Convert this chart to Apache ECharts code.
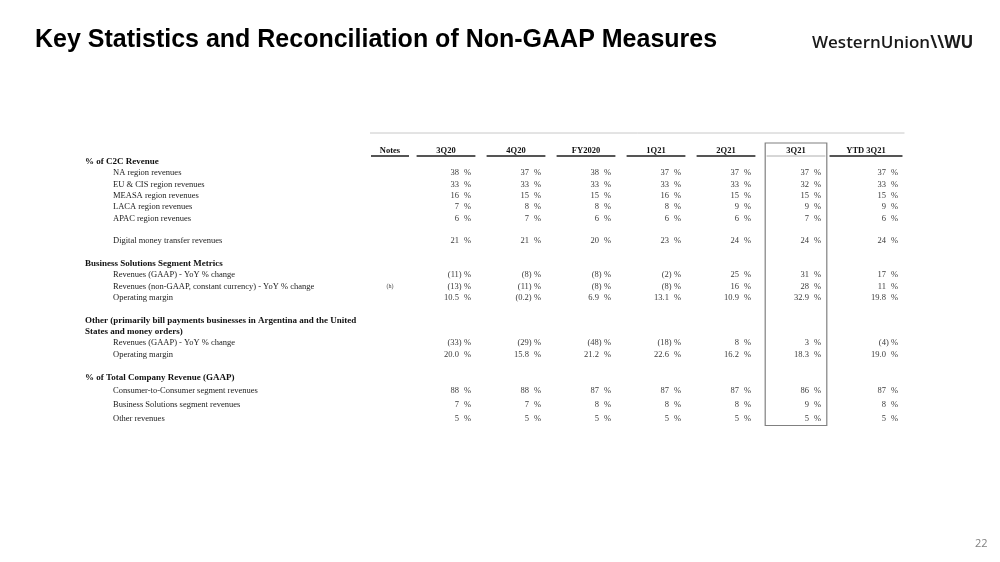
<!DOCTYPE html>
<html><head><meta charset="utf-8">
<script src="https://cdn.jsdelivr.net/npm/echarts@6/dist/echarts.min.js"></script>
<style>html,body{margin:0;padding:0;background:#fff}#c{width:1000px;height:562px}</style>
</head><body><div id="c"></div>
<script>
// ---------- data ----------
const pageTitle = 'Key Statistics and Reconciliation of Non-GAAP Measures';
const pageNumber = '22';
const notesHeader = 'Notes';
const columns = ['3Q20', '4Q20', 'FY2020', '1Q21', '2Q21', '3Q21', 'YTD 3Q21'];
const highlightColumn = '3Q21';

const naRegion = [38, 37, 38, 37, 37, 37, 37];
const euCisRegion = [33, 33, 33, 33, 33, 32, 33];
const measaRegion = [16, 15, 15, 16, 15, 15, 15];
const lacaRegion = [7, 8, 8, 8, 9, 9, 9];
const apacRegion = [6, 7, 6, 6, 6, 7, 6];
const digitalMoneyTransfer = [21, 21, 20, 23, 24, 24, 24];
const bsRevenueGaap = [-11, -8, -8, -2, 25, 31, 17];
const bsRevenueConstantCurrency = [-13, -11, -8, -8, 16, 28, 11];
const bsOperatingMargin = [10.5, -0.2, 6.9, 13.1, 10.9, 32.9, 19.8];
const otherRevenueGaap = [-33, -29, -48, -18, 8, 3, -4];
const otherOperatingMargin = [20.0, 15.8, 21.2, 22.6, 16.2, 18.3, 19.0];
const c2cSegmentShare = [88, 88, 87, 87, 87, 86, 87];
const bsSegmentShare = [7, 7, 8, 8, 8, 9, 8];
const otherRevenueShare = [5, 5, 5, 5, 5, 5, 5];
const oneDecimalSeries = [bsOperatingMargin, otherOperatingMargin];

const sectionHeads = [
  '% of C2C Revenue',
  'Business Solutions Segment Metrics',
  'Other (primarily bill payments businesses in Argentina and the United',
  'States and money orders)',
  '% of Total Company Revenue (GAAP)'
];

// upper block: row 0 is the column header row, '' rows are spacers
const topRowLabels = ['', '% of C2C Revenue', 'NA region revenues', 'EU & CIS region revenues',
  'MEASA region revenues', 'LACA region revenues', 'APAC region revenues', '',
  'Digital money transfer revenues', '', 'Business Solutions Segment Metrics',
  'Revenues (GAAP) - YoY % change', 'Revenues (non-GAAP, constant currency) - YoY % change',
  'Operating margin', '',
  'Other (primarily bill payments businesses in Argentina and the United',
  'States and money orders)', 'Revenues (GAAP) - YoY % change', 'Operating margin'];
const topRowValues = [null, null, naRegion, euCisRegion, measaRegion, lacaRegion, apacRegion, null,
  digitalMoneyTransfer, null, null, bsRevenueGaap, bsRevenueConstantCurrency, bsOperatingMargin,
  null, null, null, otherRevenueGaap, otherOperatingMargin];
const topRowNotes = ['', '', '', '', '', '', '', '', '', '', '', '', '(h)', '', '', '', '', '', ''];

const bottomRowLabels = ['% of Total Company Revenue (GAAP)', 'Consumer-to-Consumer segment revenues',
  'Business Solutions segment revenues', 'Other revenues'];
const bottomRowValues = [null, c2cSegmentShare, bsSegmentShare, otherRevenueShare];

// ---------- build ----------
const SERIF = 'Liberation Serif, Times New Roman, serif';
const FS = 8.5, FS_HEAD = 9;
const NOTE_DX = -56;

const measureCtx = document.createElement('canvas').getContext('2d');
function textWidth(t, font) { measureCtx.font = font; return measureCtx.measureText(t).width; }
function underlineHalf(colIdx, band) {
  const tw = textWidth(columns[colIdx], 'bold ' + FS + 'px ' + SERIF);
  return Math.max(band * 0.84, tw * 1.85) / 2;
}

function buildCells(labels, values, notes, withHeader) {
  const cells = [];
  if (withHeader) {
    cells.push({kind: 'notesHead', col: 0, row: 0, text: notesHeader});
    columns.forEach((c, k) => cells.push({kind: 'head', col: k, row: 0, text: c}));
  }
  values.forEach((arr, r) => {
    if (!arr) return;
    const dec = oneDecimalSeries.includes(arr) ? 1 : 0;
    arr.forEach((v, k) => cells.push({kind: 'num', col: k, row: r, val: v, dec: dec}));
  });
  if (notes) notes.forEach((n, r) => { if (n) cells.push({kind: 'note', col: 0, row: r, text: n}); });
  return cells;
}
const topCells = buildCells(topRowLabels, topRowValues, topRowNotes, true);
const bottomCells = buildCells(bottomRowLabels, bottomRowValues, null, false);

function makeRender(cells) {
  return function (params, api) {
    const c = cells[params.dataIndex];
    const p = api.coord([c.col, c.row]);
    const band = api.size([1, 0])[0];
    if (c.kind === 'num') {
      const neg = c.val < 0;
      const s = Math.abs(c.val).toFixed(c.dec);
      const right = p[0] + underlineHalf(c.col, band) - 5;   // end of the "%" sign
      const pctX = right - 6.5;
      const digitX = pctX - 5;
      return {type: 'group', children: [
        {type: 'text', style: {text: neg ? '(' + s + ')' : s, x: digitX + (neg ? 2.8 : 0), y: p[1],
          align: 'right', verticalAlign: 'middle', fontFamily: SERIF, fontSize: FS, fill: '#3a3a3a'}},
        {type: 'text', style: {text: '%', x: pctX, y: p[1], align: 'left', verticalAlign: 'middle',
          fontFamily: SERIF, fontSize: FS, fill: '#3a3a3a'}}
      ]};
    }
    if (c.kind === 'head' || c.kind === 'notesHead') {
      const isNotes = c.kind === 'notesHead';
      const x = isNotes ? p[0] + NOTE_DX : p[0];
      const hw = isNotes ? 19 : underlineHalf(c.col, band);
      const hi = c.text === highlightColumn;
      return {type: 'group', children: [
        {type: 'text', style: {text: c.text, x: x, y: p[1], align: 'center', verticalAlign: 'middle',
          fontFamily: SERIF, fontSize: FS, fontWeight: 'bold', fill: '#111'}},
        {type: 'line', shape: {x1: x - hw, y1: p[1] + 5.5, x2: x + hw, y2: p[1] + 5.5},
          style: {stroke: hi ? '#9a9a9a' : '#555', lineWidth: hi ? 0.8 : 1.8}}
      ]};
    }
    if (c.kind === 'note') {
      return {type: 'text', style: {text: c.text, x: p[0] + NOTE_DX, y: p[1], align: 'center',
        verticalAlign: 'middle', fontFamily: SERIF, fontSize: 6, fill: '#444'}};
    }
    return null;
  };
}

function labelFormatter(labels) {
  return function (value, idx) {
    const t = labels[idx];
    if (!t) return '';
    return sectionHeads.includes(t) ? '{h|' + t + '}' : '{i|' + t + '}';
  };
}
const GRID_LEFT = 411, GRID_W = 490, LABEL_X = 85;
const labelRich = {
  h: {fontFamily: SERIF, fontSize: FS_HEAD, fontWeight: 'bold', color: '#111'},
  i: {fontFamily: SERIF, fontSize: FS, color: '#222', padding: [0, 0, 0, 28]}
};
function yAxisFor(labels, gridIndex) {
  return {type: 'category', gridIndex: gridIndex, inverse: true, data: labels.map((_, i) => String(i)),
    axisLine: {show: false}, axisTick: {show: false}, splitLine: {show: false},
    axisLabel: {show: true, interval: 0, align: 'left', margin: GRID_LEFT - LABEL_X,
      formatter: labelFormatter(labels), rich: labelRich}};
}
function xAxisFor(gridIndex) {
  return {type: 'category', gridIndex: gridIndex, data: columns, boundaryGap: true,
    axisLine: {show: false}, axisTick: {show: false}, axisLabel: {show: false}, splitLine: {show: false}};
}

const chart = echarts.init(document.getElementById('c'), null, {renderer: 'canvas'});
const topRowH = 11.33, botRowH = 13.67;
chart.setOption({
  backgroundColor: '#fff',
  animation: false,
  grid: [
    {left: GRID_LEFT, width: GRID_W, top: 150.5 - topRowH / 2, height: topRowH * topRowLabels.length},
    {left: GRID_LEFT, width: GRID_W, top: 377.5 - botRowH / 2, height: botRowH * bottomRowLabels.length}
  ],
  xAxis: [xAxisFor(0), xAxisFor(1)],
  yAxis: [yAxisFor(topRowLabels, 0), yAxisFor(bottomRowLabels, 1)],
  series: [
    {type: 'custom', xAxisIndex: 0, yAxisIndex: 0, renderItem: makeRender(topCells),
      data: topCells.map(c => [c.col, c.row]), encode: {x: 0, y: 1}, silent: true},
    {type: 'custom', xAxisIndex: 1, yAxisIndex: 1, renderItem: makeRender(bottomCells),
      data: bottomCells.map(c => [c.col, c.row]), encode: {x: 0, y: 1}, silent: true}
  ]
});

// decorations positioned from the axes
const hc = columns.indexOf(highlightColumn);
const pTop = chart.convertToPixel({xAxisIndex: 0, yAxisIndex: 0}, [hc, 0]);
const pBot = chart.convertToPixel({xAxisIndex: 1, yAxisIndex: 1}, [hc, bottomRowLabels.length - 1]);
const x0 = chart.convertToPixel({xAxisIndex: 0}, 0);
const x1 = chart.convertToPixel({xAxisIndex: 0}, 1);
const xl = chart.convertToPixel({xAxisIndex: 0}, columns.length - 1);
const band = x1 - x0;
const lastHalf = underlineHalf(columns.length - 1, band);
chart.setOption({
  graphic: [
    {type: 'text', left: 35, top: 28, style: {text: pageTitle, fontFamily: 'Liberation Sans, Arial, sans-serif',
      fontSize: 25, fontWeight: 'bold', fill: '#000'}},
    {type: 'text', left: 812, top: 35, style: {text: '{a|WesternUnion}{b|\\\\WU}',
      rich: {a: {fontFamily: 'Open Sans, sans-serif', fontSize: 17, fontWeight: 600, fill: '#1a1a1a'},
             b: {fontFamily: 'Open Sans, sans-serif', fontSize: 17, fontWeight: 700, fill: '#1a1a1a'}}}},
    {type: 'text', left: 975, top: 538, style: {text: pageNumber, fontFamily: 'Open Sans, sans-serif',
      fontSize: 11, fill: '#808080'}},
    {type: 'line', shape: {x1: x0 + NOTE_DX - 20, y1: pTop[1] - 17.5, x2: xl + lastHalf + 2, y2: pTop[1] - 17.5},
      style: {stroke: '#c8c8c8', lineWidth: 1}},
    {type: 'rect', shape: {x: pTop[0] - band * 0.44, y: pTop[1] - 7.5, width: band * 0.88,
      height: pBot[1] - pTop[1] + 14.5}, style: {fill: 'none', stroke: '#808080', lineWidth: 1.2}}
  ]
});
</script>
</body></html>
